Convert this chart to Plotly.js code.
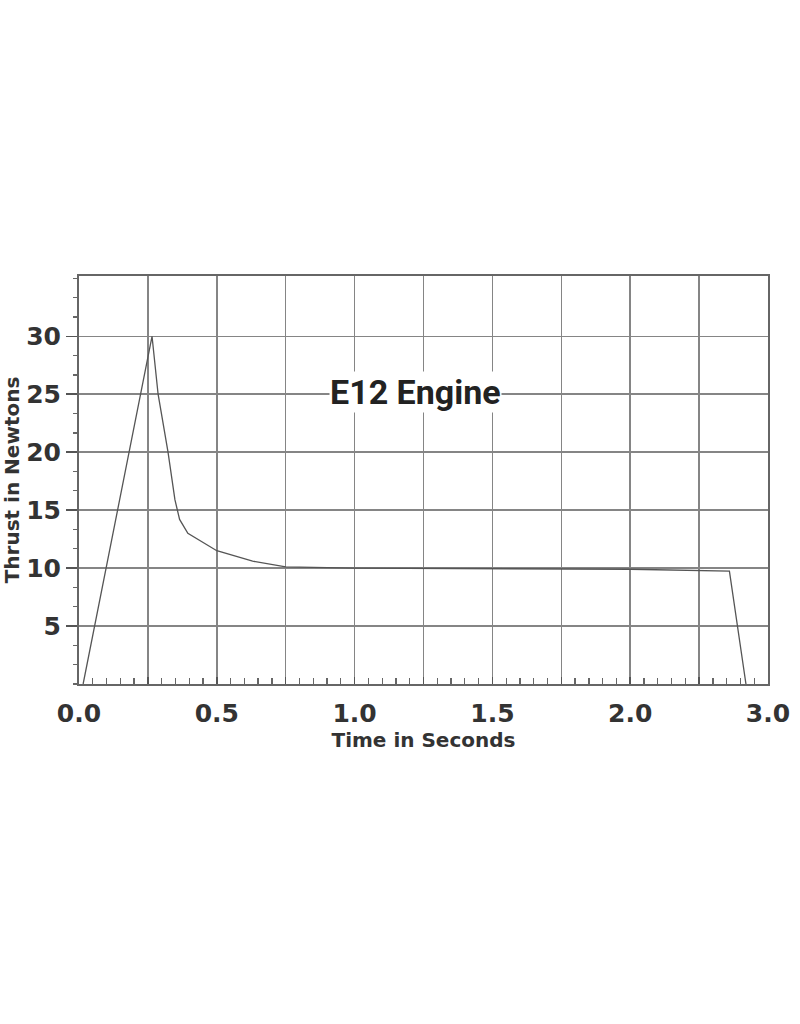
<!DOCTYPE html>
<html>
<head>
<meta charset="utf-8">
<script src="https://cdn.plot.ly/plotly-3.0.1.min.js"></script>
<style>
  html, body { margin: 0; padding: 0; background: #fff; }
  #plot { width: 800px; height: 1024px; }
</style>
</head>
<body>
<div id="plot"></div>
<script>
// thrust curve
var timeSec = [0.015, 0.265, 0.287, 0.323, 0.348, 0.365, 0.395, 0.50, 0.63, 0.75, 1.0, 1.5, 2.0, 2.36, 2.42];
var thrustN = [0, 30, 25, 20, 15.9, 14.2, 13.0, 11.5, 10.6, 10.1, 10.0, 9.95, 9.9, 9.74, 0];

var xTickVals = [0, 0.25, 0.5, 0.75, 1.0, 1.25, 1.5, 1.75, 2.0, 2.25, 2.5];
var xTickText = ["0.0", "", "0.5", "", "1.0", "", "1.5", "", "2.0", "", "3.0"];
var yTickVals = [5, 10, 15, 20, 25, 30];

var trace1 = {
  x: timeSec,
  y: thrustN,
  mode: "lines",
  type: "scatter",
  line: { color: "#555", width: 1.3 },
  hoverinfo: "skip"
};

var gridCol = "#858585";
var labFont = { family: "DejaVu Sans, Verdana, sans-serif", size: 25, color: "#333", weight: "bold" };
var titFont = { family: "DejaVu Sans, Verdana, sans-serif", size: 20, color: "#333", weight: "bold" };

var layout = {
  width: 800,
  height: 1024,
  margin: { l: 79, r: 32, t: 276, b: 340 },
  paper_bgcolor: "#fff",
  plot_bgcolor: "#fff",
  showlegend: false,
  xaxis: {
    range: [0, 2.5],
    tickvals: xTickVals,
    ticktext: xTickText,
    ticks: "inside",
    ticklen: 7,
    tickwidth: 1.5,
    tickcolor: "#555",
    ticklabelstandoff: 6,
    showgrid: true,
    gridcolor: gridCol,
    gridwidth: 1.5,
    zeroline: false,
    showline: true,
    linecolor: "#666",
    linewidth: 2,
    mirror: true,
    minor: { dtick: 0.05, ticks: "inside", ticklen: 6, tickwidth: 1.3, tickcolor: "#666", showgrid: false },
    tickfont: labFont,
    title: { text: "Time in Seconds", standoff: 4, font: titFont }
  },
  yaxis: {
    range: [0, 35.2],
    tickvals: yTickVals,
    ticks: "outside",
    ticklen: 11,
    tickwidth: 1.5,
    tickcolor: "#555",
    showgrid: true,
    gridcolor: gridCol,
    gridwidth: 1.5,
    zeroline: false,
    showline: true,
    linecolor: "#666",
    linewidth: 2,
    mirror: true,
    minor: { dtick: 5 / 3, tick0: 0, ticks: "outside", ticklen: 4, tickwidth: 1.3, tickcolor: "#666", showgrid: false },
    tickfont: labFont,
    title: { text: "Thrust in Newtons", standoff: 6, font: titFont }
  },
  annotations: [{
    text: "E12 Engine",
    xref: "paper",
    yref: "paper",
    x: (415 - 79) / 689,
    y: (684 - 392) / 408,
    xanchor: "center",
    yanchor: "middle",
    showarrow: false,
    bgcolor: "#fff",
    borderpad: 0,
    font: { family: "Roboto, sans-serif", size: 34, color: "#222", weight: "bold" }
  }]
};

Plotly.newPlot("plot", [trace1], layout, { displayModeBar: false, staticPlot: true });
</script>
</body>
</html>
